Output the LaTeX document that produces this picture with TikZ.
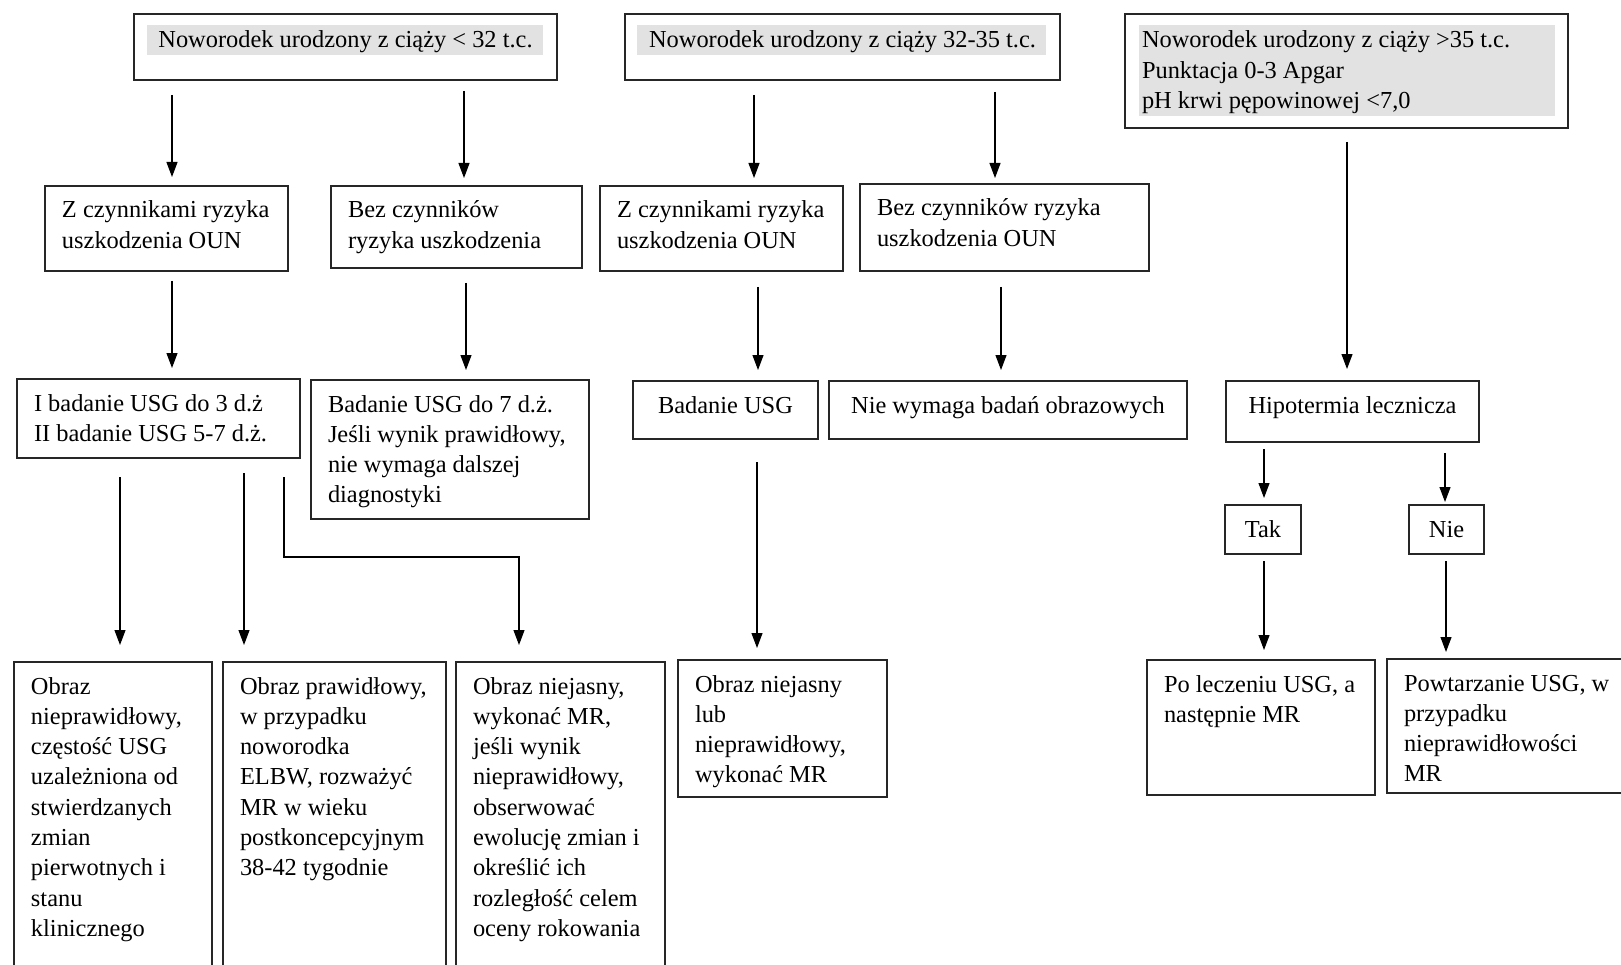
\documentclass[tikz,border=0pt]{standalone}
\usepackage{fontspec}
\setmainfont{Liberation Serif}
\usetikzlibrary{arrows.meta,backgrounds}
\definecolor{shadegray}{RGB}{226,226,226}
\newcommand\fsz{\fontsize{24.4pt}{30.3pt}\selectfont}
\newcommand\boxL[4][32]{\begin{minipage}[c][#3pt][t]{#2pt}\raggedright\leftskip=17pt\rule{0pt}{#1pt}#4\end{minipage}}
\newcommand\boxC[4][32]{\begin{minipage}[c][#3pt][t]{#2pt}\centering\rule{0pt}{#1pt}#4\end{minipage}}
\begin{document}
\begin{tikzpicture}[x=1pt,y=-1pt,
  box/.style={draw=black!85,line width=1.6pt,inner sep=0pt,outer sep=0pt,anchor=north west,font=\fsz},
  arr/.style={draw=black,line width=1.1pt,-{Triangle[width=11pt,length=15pt]}}]
\path[use as bounding box] (0,0) rectangle (1621,965);
\clip (0,0) rectangle (1621,965);
% row 1
\node[box] (b1) at (134,14) {\boxC[34]{423}{66}{Noworodek urodzony z ciąży < 32 t.c.}};
\node[box] (b2) at (625,14) {\boxC[34]{435}{66}{Noworodek urodzony z ciąży 32-35 t.c.}};
\node[box] (b3) at (1125,14) {\boxL[34]{443}{114}{Noworodek urodzony z ciąży >35 t.c.\\Punktacja 0-3 Apgar\\pH krwi pępowinowej <7,0}};
% row 2
\node[box] (b4) at (45,186) {\boxL{243}{85}{Z czynnikami ryzyka\\uszkodzenia OUN}};
\node[box] (b5) at (331,186) {\boxL{251}{82}{Bez czynników\\ryzyka uszkodzenia}};
\node[box] (b6) at (600,186) {\boxL{243}{85}{Z czynnikami ryzyka\\uszkodzenia OUN}};
\node[box] (b7) at (860,184) {\boxL{289}{87}{Bez czynników ryzyka\\uszkodzenia OUN}};
% row 3
\node[box] (b8) at (17,379) {\boxL{283}{79}{I badanie USG do 3 d.ż\\II badanie USG 5-7 d.ż.}};
\node[box] (b9) at (311,380) {\boxL{278}{139}{Badanie USG do 7 d.ż.\\Jeśli wynik prawidłowy,\\nie wymaga dalszej\\diagnostyki}};
\node[box] (b10) at (633,381) {\boxC{185}{58}{Badanie USG}};
\node[box] (b11) at (829,381) {\boxC{358}{58}{Nie wymaga badań obrazowych}};
\node[box] (b12) at (1226,381) {\boxC{253}{61}{Hipotermia lecznicza}};
\node[box] (tak) at (1225,505) {\boxC{76}{49}{Tak}};
\node[box] (nie) at (1409,505) {\boxC{75}{49}{Nie}};
% row 4
\node[box] (b13) at (14,662) {\boxL{198}{400}{Obraz\\nieprawidłowy,\\częstość USG\\uzależniona od\\stwierdzanych\\zmian\\pierwotnych i\\stanu\\klinicznego}};
\node[box] (b14) at (223,662) {\boxL{223}{400}{Obraz prawidłowy,\\w przypadku\\noworodka\\ELBW, rozważyć\\MR w wieku\\postkoncepcyjnym\\38-42 tygodnie}};
\node[box] (b15) at (456,662) {\boxL{209}{400}{Obraz niejasny,\\wykonać MR,\\jeśli wynik\\nieprawidłowy,\\obserwować\\ewolucję zmian i\\określić ich\\rozległość celem\\oceny rokowania}};
\node[box] (b16) at (678,660) {\boxL{209}{137}{Obraz niejasny\\lub\\nieprawidłowy,\\wykonać MR}};
\node[box] (b17) at (1147,660) {\boxL{228}{135}{Po leczeniu USG, a\\następnie MR}};
\node[box] (b18) at (1387,659) {\boxL{320}{134}{Powtarzanie USG, w\\przypadku\\nieprawidłowości\\MR}};
% connectors
\draw[arr,shorten <=15pt,shorten >=9pt] (b1.south -| 172,0) -- (b4.north -| 172,0);
\draw[arr,shorten <=11pt,shorten >=8pt] (b1.south -| 464,0) -- (b5.north -| 464,0);
\draw[arr,shorten <=15pt,shorten >=8pt] (b2.south -| 754,0) -- (b6.north -| 754,0);
\draw[arr,shorten <=12pt,shorten >=6pt] (b2.south -| 995,0) -- (b7.north -| 995,0);
\draw[arr,shorten <=14pt,shorten >=12pt] (b3.south -| 1347,0) -- (b12.north -| 1347,0);
\draw[arr,shorten <=10pt,shorten >=11pt] (b4.south -| 172,0) -- (b8.north -| 172,0);
\draw[arr,shorten <=15pt,shorten >=10pt] (b5.south -| 466,0) -- (b9.north -| 466,0);
\draw[arr,shorten <=16pt,shorten >=11pt] (b6.south -| 758,0) -- (b10.north -| 758,0);
\draw[arr,shorten <=16pt,shorten >=11pt] (b7.south -| 1001,0) -- (b11.north -| 1001,0);
\draw[arr,shorten <=19pt,shorten >=17pt] (b8.south -| 120,0) -- (b13.north -| 120,0);
\draw[arr,shorten <=15pt,shorten >=17pt] (b8.south -| 244,0) -- (b14.north -| 244,0);
\coordinate (bend) at (284,557);
\draw[arr,shorten <=19pt,shorten >=17pt] (b8.south -| 284,0) -- (bend) -| (b15.north -| 519,0);
\draw[arr,shorten <=23pt,shorten >=12pt] (b10.south -| 757,0) -- (b16.north -| 757,0);
\draw[arr,shorten <=7pt,shorten >=7pt] (b12.south -| 1264,0) -- (tak.north -| 1264,0);
\draw[arr,shorten <=11pt,shorten >=3pt] (b12.south -| 1445,0) -- (nie.north -| 1445,0);
\draw[arr,shorten <=7pt,shorten >=10pt] (tak.south -| 1264,0) -- (b17.north -| 1264,0);
\draw[arr,shorten <=7pt,shorten >=7pt] (nie.south -| 1446,0) -- (b18.north -| 1446,0);
% background and shading
\begin{scope}[on background layer]
\fill[white] (0,0) rectangle (1621,965);
\fill[shadegray] ([xshift=13pt,yshift=-11pt]b1.north west) rectangle ([xshift=-14pt,yshift=-41pt]b1.north east);
\fill[shadegray] ([xshift=12pt,yshift=-11pt]b2.north west) rectangle ([xshift=-14pt,yshift=-41pt]b2.north east);
\fill[shadegray] ([xshift=14pt,yshift=-11pt]b3.north west) rectangle ([xshift=-13pt,yshift=-102pt]b3.north east);
\end{scope}
\end{tikzpicture}
\end{document}
